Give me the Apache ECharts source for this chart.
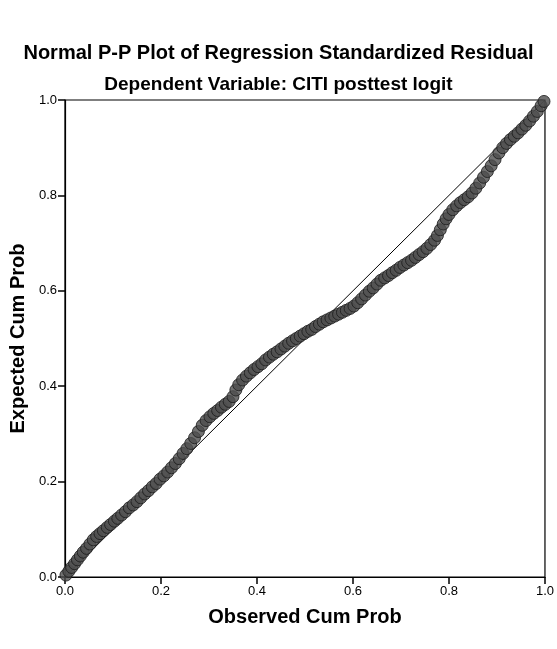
<!DOCTYPE html>
<html>
<head>
<meta charset="utf-8">
<script src="https://cdn.jsdelivr.net/npm/echarts@6/dist/echarts.min.js"></script>
<style>html,body{margin:0;padding:0;background:#fff}#c{width:557px;height:649px}</style>
</head>
<body>
<div id="c"></div>
<script>
const titleText = "Normal P-P Plot of Regression Standardized Residual";
const subtitleText = "Dependent Variable: CITI posttest logit";
const xName = "Observed Cum Prob";
const yName = "Expected Cum Prob";
const tickValues = [0.0, 0.2, 0.4, 0.6, 0.8, 1.0];
const diagX = [0, 1];
const diagY = [0, 1];
const observed = [0.002,0.008,0.014,0.020,0.026,0.032,0.038,0.045,0.052,0.059,0.066,0.073,0.080,0.088,0.095,0.103,0.110,0.118,0.126,0.134,0.142,0.150,0.158,0.166,0.174,0.182,0.190,0.198,0.206,0.214,0.222,0.230,0.238,0.246,0.254,0.262,0.270,0.278,0.286,0.294,0.302,0.310,0.318,0.326,0.334,0.342,0.350,0.356,0.362,0.370,0.378,0.386,0.394,0.402,0.410,0.418,0.426,0.434,0.442,0.450,0.458,0.466,0.474,0.482,0.490,0.498,0.506,0.514,0.522,0.530,0.538,0.546,0.554,0.562,0.570,0.578,0.586,0.594,0.602,0.610,0.618,0.626,0.634,0.642,0.650,0.658,0.666,0.674,0.682,0.690,0.698,0.706,0.714,0.722,0.730,0.738,0.746,0.754,0.762,0.770,0.776,0.782,0.788,0.794,0.800,0.808,0.816,0.824,0.832,0.840,0.848,0.856,0.864,0.872,0.880,0.888,0.896,0.904,0.912,0.920,0.928,0.936,0.944,0.952,0.960,0.968,0.976,0.984,0.992,0.998];
const expected = [0.004,0.012,0.020,0.028,0.036,0.044,0.052,0.060,0.069,0.078,0.085,0.091,0.097,0.104,0.110,0.117,0.123,0.130,0.137,0.145,0.151,0.158,0.166,0.174,0.181,0.189,0.196,0.205,0.212,0.220,0.229,0.238,0.248,0.259,0.269,0.280,0.292,0.305,0.318,0.328,0.336,0.343,0.349,0.356,0.362,0.368,0.378,0.392,0.403,0.413,0.421,0.428,0.435,0.441,0.447,0.455,0.461,0.467,0.472,0.478,0.484,0.490,0.495,0.500,0.505,0.510,0.515,0.519,0.525,0.530,0.535,0.539,0.543,0.547,0.551,0.555,0.559,0.563,0.568,0.575,0.583,0.591,0.599,0.606,0.614,0.622,0.627,0.632,0.638,0.643,0.649,0.654,0.659,0.664,0.670,0.676,0.682,0.689,0.697,0.706,0.716,0.728,0.740,0.751,0.760,0.770,0.778,0.785,0.791,0.797,0.805,0.815,0.826,0.838,0.850,0.862,0.875,0.889,0.900,0.909,0.917,0.924,0.931,0.939,0.947,0.956,0.966,0.976,0.988,0.997];

const pts = observed.map((x, i) => [x, expected[i]]);
const diag = diagX.map((x, i) => [x, diagY[i]]);
const fontFam = "Liberation Sans, Arial, sans-serif";

const chart = echarts.init(document.getElementById('c'), null, {renderer: 'canvas'});
const axisCommon = {
  type: 'value', min: 0, max: 1, interval: 0.2,
  splitLine: {show: false},
  axisLine: {show: true, lineStyle: {color: '#000', width: 1.2}},
  axisTick: {show: true, length: 7, lineStyle: {color: '#000', width: 1.5}},
  axisLabel: {color: '#000', fontSize: 13, fontFamily: fontFam,
    formatter: v => tickValues.indexOf(Math.round(v * 10) / 10) >= 0 ? v.toFixed(1) : ''},
  nameLocation: 'middle',
  nameTextStyle: {color: '#000', fontSize: 20, fontWeight: 'bold', fontFamily: fontFam}
};
chart.setOption({
  backgroundColor: '#fff',
  animation: false,
  title: [
    {text: titleText, left: 'center', top: 38, textStyle: {color: '#000', fontSize: 20, fontWeight: 'bold', fontFamily: fontFam}},
    {text: subtitleText, left: 'center', top: 70, textStyle: {color: '#000', fontSize: 19, fontWeight: 'bold', fontFamily: fontFam}}
  ],
  grid: {left: 62, right: 9, top: 100, bottom: 72, show: true, borderColor: '#000', borderWidth: 1.2, backgroundColor: 'transparent'},
  xAxis: Object.assign({}, axisCommon, {name: xName, nameGap: 30}),
  yAxis: Object.assign({}, axisCommon, {name: yName, nameGap: 34}),
  series: [
    {type: 'line', data: diag, symbol: 'none', lineStyle: {color: '#000', width: 1}, z: 1, silent: true},
    {type: 'scatter', data: pts, symbol: 'circle', symbolSize: 12,
     itemStyle: {color: '#4d4d4d', borderColor: '#1a1a1a', borderWidth: 1}, z: 3}
  ]
});
</script>
</body>
</html>
